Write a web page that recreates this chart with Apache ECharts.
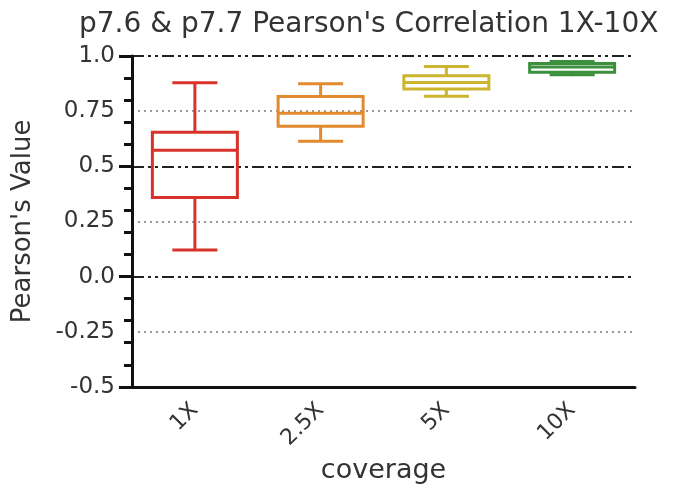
<!DOCTYPE html>
<html>
<head>
<meta charset="utf-8">
<script src="https://cdn.jsdelivr.net/npm/echarts@6/dist/echarts.min.js"></script>
<style>
  html, body { margin: 0; padding: 0; background: #fff; }
  #chart { width: 673px; height: 489px; }
</style>
</head>
<body>
<div id="chart"></div>
<script>
// coverage groups
const categories = ['1X', '2.5X', '5X', '10X'];
// [min, Q1, median, Q3, max]
const box1X  = [0.120, 0.358, 0.573, 0.654, 0.879];
const box25X = [0.614, 0.681, 0.740, 0.816, 0.874];
const box5X  = [0.817, 0.850, 0.880, 0.910, 0.952];
const box10X = [0.915, 0.926, 0.950, 0.966, 0.975];
const boxColors = ['#d8322b', '#e28a2e', '#ccb52f', '#3b8f3d'];
const yTickLabels = { '-0.5': '-0.5', '-0.25': '-0.25', '0': '0.0', '0.25': '0.25', '0.5': '0.5', '0.75': '0.75', '1': '1.0' };

const font = 'DejaVu Sans, Liberation Sans, sans-serif';
const boxes = [box1X, box25X, box5X, box10X];

function renderBox(params, api) {
    const i = api.value(0);
    const pMin = api.coord([i, api.value(1)]);
    const pQ1 = api.coord([i, api.value(2)]);
    const pMed = api.coord([i, api.value(3)]);
    const pQ3 = api.coord([i, api.value(4)]);
    const pMax = api.coord([i, api.value(5)]);
    const band = api.size([1, 0])[0];
    const bw = band * 0.676;
    const cw = bw * 0.53;
    const cx = pMed[0];
    const style = { stroke: api.visual('color'), fill: null, lineWidth: 3 };
    const line = (x1, y1, x2, y2) => ({ type: 'line', shape: { x1, y1, x2, y2 }, style });
    return {
        type: 'group',
        children: [
            { type: 'rect', shape: { x: cx - bw / 2, y: pQ3[1], width: bw, height: pQ1[1] - pQ3[1] }, style },
            line(cx - bw / 2, pMed[1], cx + bw / 2, pMed[1]),
            line(cx, pQ3[1], cx, pMax[1]),
            line(cx, pQ1[1], cx, pMin[1]),
            line(cx - cw / 2, pMax[1], cx + cw / 2, pMax[1]),
            line(cx - cw / 2, pMin[1], cx + cw / 2, pMin[1])
        ]
    };
}

const chart = echarts.init(document.getElementById('chart'));
chart.setOption({
    animation: false,
    textStyle: { fontFamily: font },
    title: {
        text: "p7.6 & p7.7 Pearson's Correlation 1X-10X",
        left: 74,
        top: 6,
        textStyle: { fontFamily: font, fontSize: 28, fontWeight: 'normal', color: '#333' }
    },
    grid: { left: 132, right: 38, top: 56, bottom: 99 },
    xAxis: {
        type: 'category',
        data: categories,
        name: 'coverage',
        nameLocation: 'middle',
        nameGap: 64,
        nameTextStyle: { fontSize: 27, color: '#333', fontFamily: font },
        axisLine: { onZero: false, lineStyle: { color: '#111', width: 3 } },
        axisTick: { alignWithLabel: true, length: 8, lineStyle: { color: '#111', width: 3 } },
        axisLabel: { rotate: 45, fontSize: 22, color: '#333', margin: 20, fontFamily: font },
        splitLine: { show: false }
    },
    yAxis: [
        {
            type: 'value',
            min: -0.5,
            max: 1,
            interval: 0.25,
            name: "Pearson's Value",
            nameLocation: 'middle',
            nameGap: 96,
            nameTextStyle: { fontSize: 26, color: '#333', fontFamily: font },
            axisLine: { show: true, lineStyle: { color: '#111', width: 3 } },
            axisTick: { show: false },
            axisLabel: {
                fontSize: 23, color: '#333', margin: 17, fontFamily: font,
                formatter: v => yTickLabels[String(+v.toFixed(2))]
            },
            splitLine: { show: true, lineStyle: { color: ['rgba(0,0,0,0)', '#9a9a9a'], width: 2, type: [2, 4] } }
        },
        {
            type: 'value',
            min: -0.5,
            max: 1,
            interval: 0.5,
            position: 'left',
            axisLine: { show: false },
            axisLabel: { show: false },
            axisTick: { show: true, length: 13, lineStyle: { color: '#111', width: 3 } },
            minorTick: { show: true, splitNumber: 5, length: 8, lineStyle: { color: '#111', width: 3 } },
            splitLine: { show: true, showMinLine: false, lineStyle: { color: '#222', width: 2, type: [12, 4, 3, 4, 3, 4] } }
        }
    ],
    series: [{
        type: 'custom',
        renderItem: renderBox,
        encode: { x: 0, y: [1, 2, 3, 4, 5] },
        data: boxes.map((b, i) => ({ value: [i].concat(b), itemStyle: { color: boxColors[i] } })),
        z: 5
    }]
});
</script>
</body>
</html>
